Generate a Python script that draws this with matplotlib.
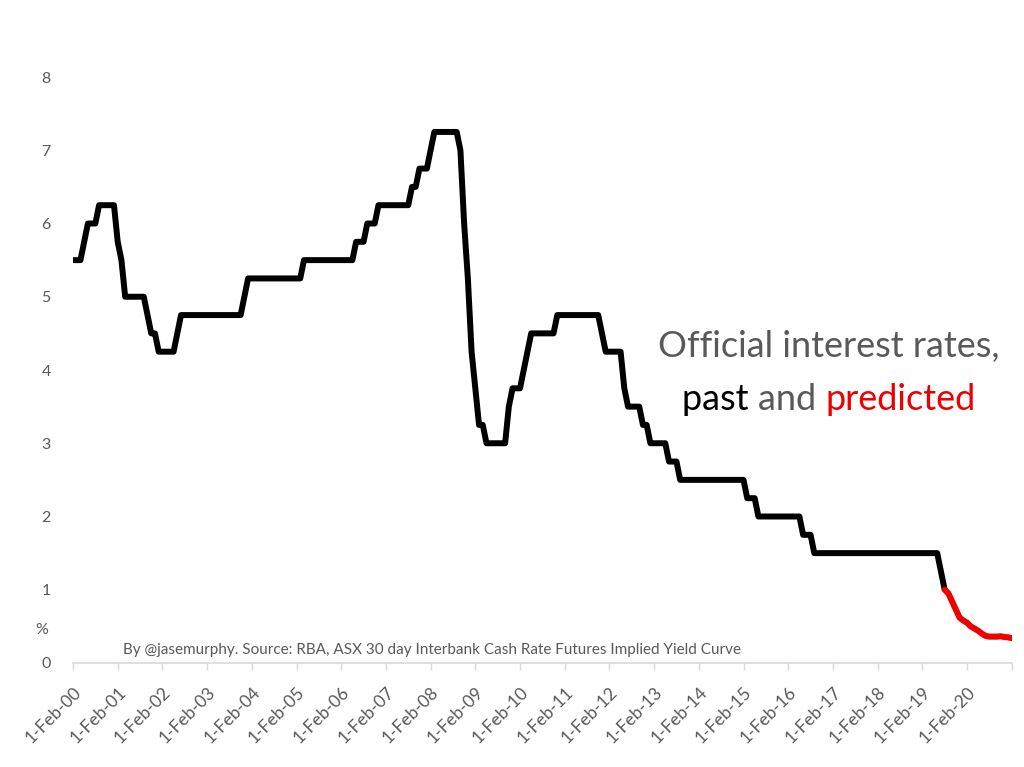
import numpy as np
import matplotlib
matplotlib.use("Agg")
import matplotlib.pyplot as plt

# RBA cash rate, monthly (Feb 2000 .. Aug 2019)
rate_2000 = [5.5, 5.5, 5.5, 5.75, 6.0, 6.0, 6.0, 6.25, 6.25, 6.25, 6.25]  # Feb-Dec
rate_2001 = [6.25, 5.75, 5.5, 5.0, 5.0, 5.0, 5.0, 5.0, 5.0, 4.75, 4.5, 4.5]
rate_2002 = [4.25, 4.25, 4.25, 4.25, 4.25, 4.5, 4.75, 4.75, 4.75, 4.75, 4.75, 4.75]
rate_2003 = [4.75] * 11 + [5.0]
rate_2004 = [5.25] * 12
rate_2005 = [5.25] * 3 + [5.5] * 9
rate_2006 = [5.5] * 5 + [5.75, 5.75, 5.75, 6.0, 6.0, 6.0, 6.25]
rate_2007 = [6.25] * 8 + [6.5, 6.5, 6.75, 6.75]
rate_2008 = [6.75, 7.0, 7.25, 7.25, 7.25, 7.25, 7.25, 7.25, 7.25, 7.0, 6.0, 5.25]
rate_2009 = [4.25, 3.75, 3.25, 3.25, 3.0, 3.0, 3.0, 3.0, 3.0, 3.0, 3.5, 3.75]
rate_2010 = [3.75, 3.75, 4.0, 4.25, 4.5, 4.5, 4.5, 4.5, 4.5, 4.5, 4.5, 4.75]
rate_2011 = [4.75] * 11 + [4.5]
rate_2012 = [4.25] * 5 + [3.75, 3.5, 3.5, 3.5, 3.5, 3.25, 3.25]
rate_2013 = [3.0] * 5 + [2.75, 2.75, 2.75] + [2.5] * 4
rate_2014 = [2.5] * 12
rate_2015 = [2.5, 2.5, 2.25, 2.25, 2.25] + [2.0] * 7
rate_2016 = [2.0] * 5 + [1.75, 1.75, 1.75] + [1.5] * 4
rate_2017 = [1.5] * 12
rate_2018 = [1.5] * 12
rate_2019 = [1.5] * 6 + [1.25, 1.0]  # Jan-Aug

# implied yield curve, Aug 2019 .. Feb 2021
predicted = [1.0, 0.95, 0.84, 0.73, 0.62, 0.58, 0.55, 0.50, 0.47, 0.44,
             0.40, 0.37, 0.36, 0.36, 0.36, 0.365, 0.355, 0.35, 0.34]

year_labels = ["1-Feb-%02d" % y for y in range(0, 21)]

past = (rate_2000 + rate_2001 + rate_2002 + rate_2003 + rate_2004 + rate_2005
        + rate_2006 + rate_2007 + rate_2008 + rate_2009 + rate_2010 + rate_2011
        + rate_2012 + rate_2013 + rate_2014 + rate_2015 + rate_2016 + rate_2017
        + rate_2018 + rate_2019)
x_past = np.arange(len(past))
x_pred = np.arange(len(past) - 1, len(past) - 1 + len(predicted))

grey = "#595959"
font = "Lato"

fig = plt.figure(figsize=(10.24, 7.67), dpi=100)
ax = fig.add_axes([0.0713, 0.1356, 0.9167, 0.764])

ax.plot(x_past, past, color="black", lw=4.3, solid_joinstyle="round",
        solid_capstyle="butt", zorder=3)
ax.plot(x_pred, predicted, color="#ee0000", lw=4.4, solid_capstyle="round",
        solid_joinstyle="round", zorder=3)

ax.set_xlim(0, 252)
ax.set_ylim(0, 8)

ax.set_yticks(range(0, 9))
ax.set_yticklabels([str(v) for v in range(0, 9)], color=grey, fontsize=11.5, family=font)
ax.tick_params(axis="y", length=0, pad=16)

ax.set_xticks(list(range(0, 241, 12)) + [252])
ax.set_xticklabels(year_labels + [""], rotation=45, ha="right", va="top",
                   rotation_mode="anchor", color=grey, fontsize=12.5, family=font)
ax.tick_params(axis="x", length=5, color="#d9d9d9", width=1, pad=10)

for s in ["top", "right", "left"]:
    ax.spines[s].set_visible(False)
ax.spines["bottom"].set_color("#d9d9d9")
ax.spines["bottom"].set_linewidth(1.2)

ax.text(-0.033, 0.45, "%", transform=ax.get_yaxis_transform(), color=grey,
        fontsize=11.5, family=font, ha="center", va="center")

ax.text(13.5, 0.18, "By @jasemurphy. Source: RBA, ASX 30 day Interbank Cash Rate Futures Implied Yield Curve",
        color=grey, fontsize=11, family=font, ha="left", va="center")

# title in two lines, second one in three colours
ax.text(203, 4.32, "Official interest rates,", color=grey, fontsize=26,
        family=font, ha="center", va="center")

fig.canvas.draw()
r = fig.canvas.get_renderer()
parts = [("past ", "black"), ("and ", grey), ("predicted", "#ee0000")]
texts = []
for s, c in parts:
    texts.append(ax.text(0, 3.6, s.replace(" ", "\u00a0"), color=c, fontsize=26,
                         family=font, ha="left", va="center"))
widths = [t.get_window_extent(r).width for t in texts]
total = sum(widths)
cx = ax.transData.transform((203, 0))[0]
x0 = cx - total / 2
inv = ax.transData.inverted()
for t, w in zip(texts, widths):
    t.set_x(inv.transform((x0, 0))[0])
    x0 += w

fig.savefig("out.png", dpi=100, facecolor="white")
